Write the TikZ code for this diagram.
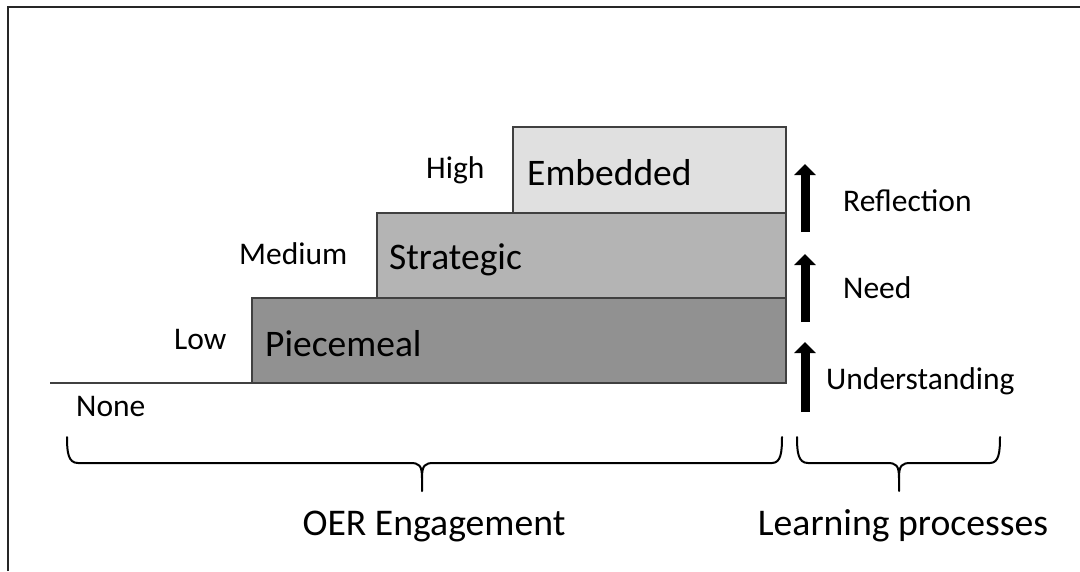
\documentclass[tikz,border=0pt]{standalone}
\usepackage{fontspec}
\setmainfont{Carlito}
\usetikzlibrary{arrows.meta}
\definecolor{edge}{HTML}{404040}
\definecolor{fillA}{HTML}{919191}
\definecolor{fillB}{HTML}{B4B4B4}
\definecolor{fillC}{HTML}{E0E0E0}
\tikzset{
  box/.style={draw=edge, line width=1.3pt},
  small/.style={inner sep=0pt, anchor=base west, font=\fontsize{31.5}{34}\selectfont},
  big/.style={inner sep=0pt, anchor=base west, font=\fontsize{37.5}{40}\selectfont},
  bottom/.style={inner sep=0pt, anchor=base, font=\fontsize{37.7}{40}\selectfont},
  uparrow/.style={line width=9pt, -{Triangle[width=21pt,length=11pt]}},
  bracepath/.style={line width=2pt, line join=round, line cap=round},
  frame/.style={draw=black!85, line width=2.5pt}
}
\begin{document}
\begin{tikzpicture}[x=1pt,y=-1pt]
\useasboundingbox (0,0) rectangle (1080,571);
% frame
\draw[frame] (8,571) -- (8,7) -- (1080,7);
% steps
\draw[edge, line width=1.3pt] (50,383) -- (252,383);
\draw[box, fill=fillA] (252,298) rectangle (786,383);
\draw[box, fill=fillB] (377,213) rectangle (786,298);
\draw[box, fill=fillC] (513,127) rectangle (786,213);
% level labels
\node[small] (high) at (426,178) {High};
\node[small] (medium) at (239,264) {Medium};
\node[small] (low) at (174,349) {Low};
\node[small] (none) at (76,416) {None};
% box labels
\node[big] (embedded) at (527,185) {Embedded};
\node[big] (strategic) at (389,269) {Strategic};
\node[big] (piecemeal) at (265,356) {Piecemeal};
% arrows
\coordinate (a1s) at (805,232); \coordinate (a1e) at (805,164);
\coordinate (a2s) at (805,322); \coordinate (a2e) at (805,254);
\coordinate (a3s) at (805,412); \coordinate (a3e) at (805,342);
\draw[uparrow] (a1s) -- (a1e);
\draw[uparrow] (a2s) -- (a2e);
\draw[uparrow] (a3s) -- (a3e);
\node[small] (reflection) at (843,211) {Reflection};
\node[small] (need) at (843,298) {Need};
\node[small] (understanding) at (826,389) {Understanding};
% braces
\draw[bracepath] (67,437) .. controls (67,452) and (68,463) .. (78,463) -- (410,463)
  .. controls (419,463) and (422,465) .. (422,478) -- (422,491);
\draw[bracepath] (422,478) .. controls (422,465) and (425,463) .. (434,463) -- (772,463)
  .. controls (781,463) and (782,452) .. (782,437);
\draw[bracepath] (797,437) .. controls (797,452) and (798,463) .. (808,463) -- (887,463)
  .. controls (896,463) and (899,465) .. (899,478) -- (899,491);
\draw[bracepath] (899,478) .. controls (899,465) and (902,463) .. (911,463) -- (990,463)
  .. controls (999,463) and (1000,452) .. (1000,437);
% bottom labels
\node[bottom] (oer) at (434,535) {OER Engagement};
\node[bottom] (learning) at (903,535) {Learning processes};
\end{tikzpicture}
\end{document}
